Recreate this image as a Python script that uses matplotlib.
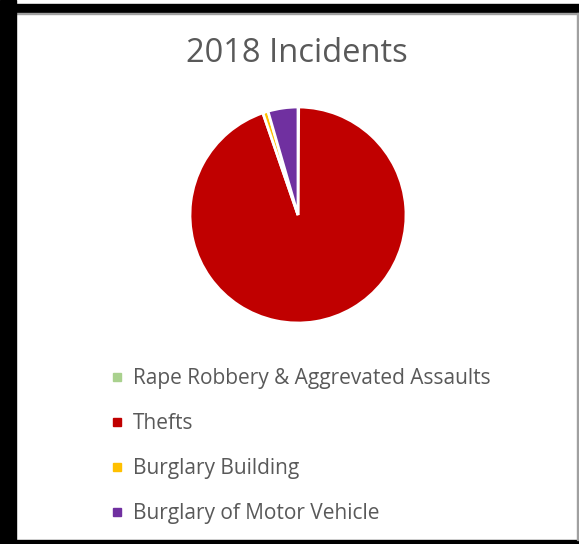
import matplotlib.pyplot as plt
from matplotlib.patches import Rectangle
from matplotlib.lines import Line2D

categories = ["Rape Robbery & Aggrevated Assaults", "Thefts",
              "Burglary Building", "Burglary of Motor Vehicle"]
counts = [1, 950, 8, 45]
colors = ["#a9d18e", "#c00000", "#ffc000", "#7030a0"]
title = "2018 Incidents"

W, H = 579, 544
TXT = "#595959"
plt.rcParams['font.family'] = ['Open Sans', 'DejaVu Sans']

fig = plt.figure(figsize=(W / 100, H / 100), dpi=100)

# black frame like the screenshot
def px_rect(x0, y0, x1, y1, color):
    fig.patches.append(Rectangle((x0 / W, 1 - y1 / H), (x1 - x0) / W, (y1 - y0) / H,
                                 transform=fig.transFigure, color=color, zorder=0))

px_rect(0, 4, W, 13, "black")
px_rect(16, 13, W, 14, "#a0a0a0")
px_rect(0, 0, 16, H, "black")
px_rect(0, 540, W, H, "black")
px_rect(577, 13, W, 540, "#a0a0a0")

fig.text(297 / W, 1 - 53 / H, title, ha="center", va="center", fontsize=23.5, color=TXT)

cx, cy, r = 298, 215, 108
ax = fig.add_axes([(cx - r) / W, 1 - (cy + r) / H, 2 * r / W, 2 * r / H])
ax.pie(counts, colors=colors, startangle=90, counterclock=False,
       wedgeprops=dict(edgecolor="white", linewidth=2))
ax.set_xlim(-1.0, 1.0)
ax.set_ylim(-1.0, 1.0)
ax.set_aspect("equal")
ax.axis("off")

handles = [Line2D([], [], marker="s", linestyle="none", markersize=6,
                  markerfacecolor=c, markeredgecolor=c) for c in colors]
fig.legend(handles, categories, loc="upper left", bbox_to_anchor=(111 / W, 1 - 368 / H),
           frameon=False, fontsize=15, labelcolor=TXT, handlelength=0.6,
           handletextpad=0.45, labelspacing=1.16, borderpad=0, borderaxespad=0)

fig.savefig("out.png", dpi=100)
